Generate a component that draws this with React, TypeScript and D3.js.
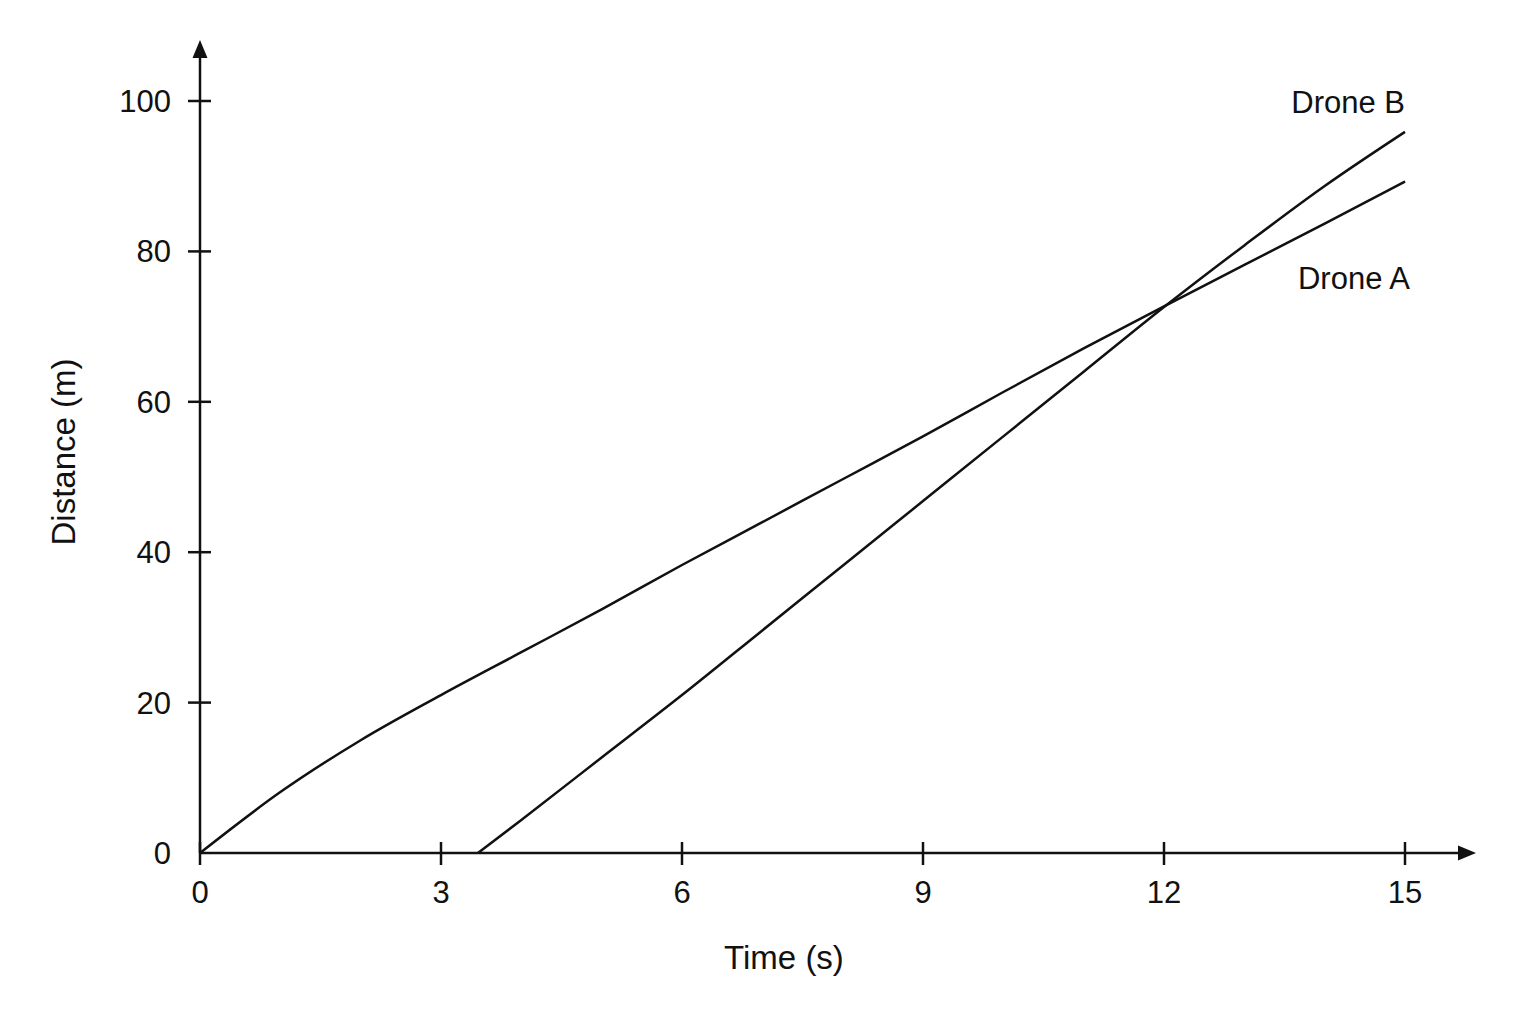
import React, { useEffect, useRef } from 'react'
import * as d3 from 'd3'

// time (s) and distance (m)
const droneATime = [0, 1, 2, 3, 4, 5, 6, 7, 8, 9, 10, 11, 12, 13, 14, 15]
const droneADist = [0, 8.1, 15.0, 21.0, 26.7, 32.4, 38.3, 44.0, 49.7, 55.4, 61.3, 67.1, 72.7, 78.2, 83.7, 89.3]

const droneBTime = [3.46, 4, 5, 6, 7, 8, 9, 10, 11, 12, 13, 14, 15]
const droneBDist = [0, 4.4, 12.7, 21.0, 29.6, 38.2, 46.8, 55.4, 64.0, 72.6, 80.8, 88.7, 95.9]

const xTicks = [0, 3, 6, 9, 12, 15]
const yTicks = [20, 40, 60, 80, 100]

const W = 1536
const H = 1024

const App = () => {
  const ref = useRef<SVGSVGElement | null>(null)

  useEffect(() => {
    draw()
  }, [])

  const draw = () => {
    const svg = d3.select(ref.current)
    svg.selectAll('*').remove()

    const x = d3.scaleLinear().domain([0, 15]).range([200, 1405])
    const y = d3.scaleLinear().domain([0, 100]).range([853, 101])
    const ink = '#111'
    const font = 'Liberation Sans, Arial, sans-serif'

    // axes lines with arrows
    svg.append('line')
      .attr('x1', x(0)).attr('y1', y(0)).attr('x2', x(0)).attr('y2', 52)
      .attr('stroke', ink).attr('stroke-width', 2.5)
    svg.append('path')
      .attr('d', `M${x(0)},40 L${x(0) - 7.5},58 L${x(0) + 7.5},58 Z`)
      .attr('fill', ink)

    svg.append('line')
      .attr('x1', x(0)).attr('y1', y(0)).attr('x2', 1464).attr('y2', y(0))
      .attr('stroke', ink).attr('stroke-width', 2.5)
    svg.append('path')
      .attr('d', `M1476,${y(0)} L1458,${y(0) - 7.5} L1458,${y(0) + 7.5} Z`)
      .attr('fill', ink)

    // x ticks
    const xt = svg.append('g')
    xt.selectAll('line').data(xTicks).enter().append('line')
      .attr('x1', (d) => x(d)).attr('x2', (d) => x(d))
      .attr('y1', y(0) - 11).attr('y2', y(0) + 12)
      .attr('stroke', ink).attr('stroke-width', 2.5)
    xt.selectAll('text').data(xTicks).enter().append('text')
      .attr('x', (d) => x(d)).attr('y', 903)
      .attr('text-anchor', 'middle')
      .attr('font-family', font).attr('font-size', 31).attr('fill', ink)
      .text((d) => String(d))

    // y ticks
    const yt = svg.append('g')
    yt.selectAll('line').data(yTicks).enter().append('line')
      .attr('x1', x(0) - 12).attr('x2', x(0) + 11)
      .attr('y1', (d) => y(d)).attr('y2', (d) => y(d))
      .attr('stroke', ink).attr('stroke-width', 2.5)
    yt.selectAll('text').data([0, ...yTicks]).enter().append('text')
      .attr('x', 171).attr('y', (d) => y(d) + 11)
      .attr('text-anchor', 'end')
      .attr('font-family', font).attr('font-size', 31).attr('fill', ink)
      .text((d) => String(d))

    // axis titles
    svg.append('text')
      .attr('x', 784).attr('y', 969)
      .attr('text-anchor', 'middle')
      .attr('font-family', font).attr('font-size', 33).attr('fill', ink)
      .text('Time (s)')
    svg.append('text')
      .attr('transform', 'translate(75,452) rotate(-90)')
      .attr('text-anchor', 'middle')
      .attr('font-family', font).attr('font-size', 33).attr('fill', ink)
      .text('Distance (m)')

    // series
    const line = d3.line<[number, number]>()
      .x((d) => x(d[0]))
      .y((d) => y(d[1]))
      .curve(d3.curveMonotoneX)

    const a = droneATime.map((t, i) => [t, droneADist[i]] as [number, number])
    const b = droneBTime.map((t, i) => [t, droneBDist[i]] as [number, number])

    svg.append('path').datum(a).attr('d', line)
      .attr('fill', 'none').attr('stroke', ink).attr('stroke-width', 2.5)
    svg.append('path').datum(b).attr('d', line)
      .attr('fill', 'none').attr('stroke', ink).attr('stroke-width', 2.5)

    // series labels
    svg.append('text')
      .attr('x', x(15)).attr('y', y(100) + 12)
      .attr('text-anchor', 'end')
      .attr('font-family', font).attr('font-size', 31).attr('fill', ink)
      .text('Drone B')
    svg.append('text')
      .attr('x', x(15) + 5).attr('y', y(75))
      .attr('text-anchor', 'end')
      .attr('font-family', font).attr('font-size', 31).attr('fill', ink)
      .text('Drone A')
  }

  return (
    <svg
      ref={ref}
      width={W}
      height={H}
      style={{ position: 'absolute', left: 0, top: 0, background: '#fff' }}
    />
  )
}

export default App
